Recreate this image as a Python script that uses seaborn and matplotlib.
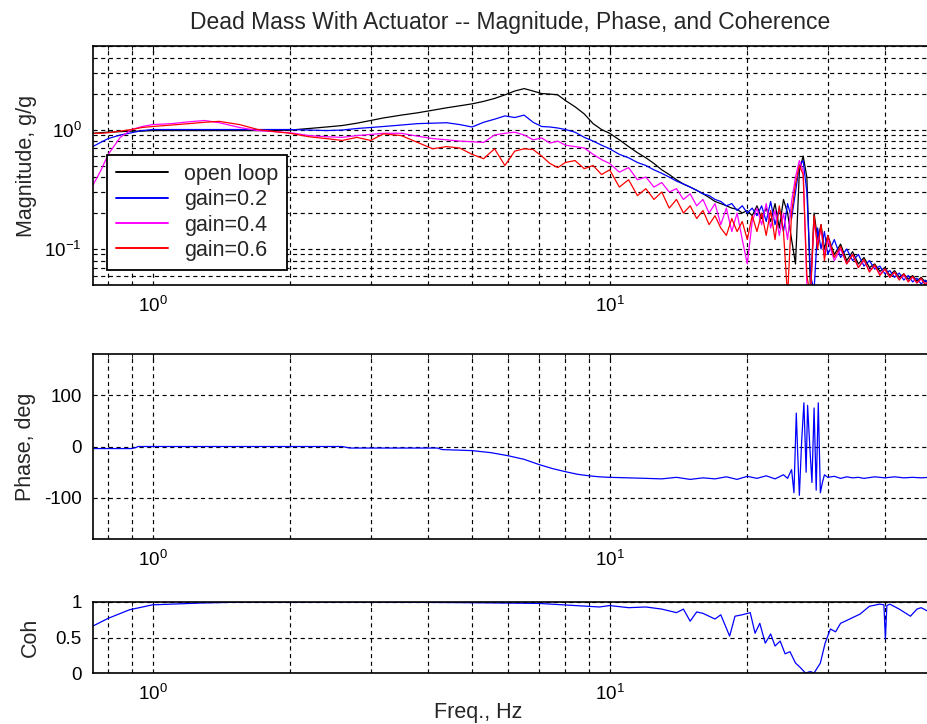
import numpy as np
import pandas as pd
import matplotlib
matplotlib.use("Agg")
import matplotlib.pyplot as plt
import seaborn as sns
from matplotlib.ticker import LogLocator, LogFormatterMathtext, NullFormatter, FixedLocator

# ---------------- data ----------------
freq_mag = [0.74, 0.77, 0.80, 0.85, 0.90, 0.95, 1.0, 1.1, 1.2, 1.3, 1.4, 1.55, 1.7, 1.85,
            2.0, 2.2, 2.4, 2.6, 2.8, 3.0, 3.2, 3.5, 3.8, 4.1, 4.4, 4.7, 5.0, 5.3, 5.6, 5.9,
            6.2, 6.5, 6.8, 7.1, 7.4, 7.7, 8.0, 8.4, 8.8, 9.2, 9.6, 10.0, 10.5, 11.0, 11.5,
            12.0, 12.5, 13.0, 13.5, 14.0, 14.5, 15.0, 15.5, 16.0, 16.5, 17.0, 17.5, 18.0,
            18.5, 19.0, 19.5, 20.0, 20.5, 21.0, 21.5, 22.0, 22.5, 23.0, 23.5, 24.0, 24.5,
            25.0, 25.5, 26.0, 26.5, 27.0, 27.5, 28.0, 28.5, 29.0, 29.5, 30.0, 31, 32, 33,
            34, 35, 36, 37, 38, 39, 40, 41, 42, 43, 44, 45, 46, 47, 48, 49, 50]

mag_open = [0.93, 0.94, 0.95, 0.96, 0.97, 0.97, 0.98, 0.98, 0.98, 0.98, 0.98, 0.98, 0.98, 0.98,
            0.99, 1.02, 1.05, 1.08, 1.13, 1.19, 1.25, 1.32, 1.38, 1.45, 1.52, 1.58, 1.64, 1.72,
            1.82, 1.95, 2.10, 2.20, 2.10, 2.00, 1.98, 1.95, 1.75, 1.55, 1.35, 1.12, 1.00, 0.93,
            0.82, 0.72, 0.64, 0.58, 0.52, 0.46, 0.42, 0.38, 0.35, 0.33, 0.31, 0.29, 0.27, 0.25,
            0.24, 0.23, 0.22, 0.215, 0.20, 0.21, 0.19, 0.23, 0.18, 0.22, 0.17, 0.24, 0.15, 0.26,
            0.20, 0.12, 0.075, 0.45, 0.60, 0.40, 0.045, 0.20, 0.12, 0.16, 0.10, 0.13, 0.09,
            0.11, 0.08, 0.095, 0.075, 0.085, 0.07, 0.075, 0.065, 0.07, 0.06, 0.066, 0.058,
            0.062, 0.056, 0.06, 0.054, 0.058, 0.053, 0.056]

mag_g02 = [0.72, 0.78, 0.84, 0.90, 0.94, 0.98, 1.0, 1.0, 1.0, 1.0, 1.0, 1.0, 1.0, 1.0,
           1.0, 0.99, 0.98, 0.99, 1.02, 1.04, 1.06, 1.09, 1.12, 1.13, 1.14, 1.10, 1.05, 1.15,
           1.22, 1.30, 1.26, 1.32, 1.15, 1.06, 1.05, 1.03, 1.00, 0.95, 0.86, 0.80, 0.74, 0.69,
           0.62, 0.58, 0.53, 0.50, 0.46, 0.43, 0.40, 0.37, 0.35, 0.33, 0.31, 0.29, 0.28, 0.26,
           0.25, 0.23, 0.24, 0.21, 0.23, 0.20, 0.22, 0.19, 0.23, 0.17, 0.25, 0.16, 0.22, 0.14,
           0.24, 0.18, 0.30, 0.50, 0.55, 0.30, 0.06, 0.045, 0.15, 0.10, 0.14, 0.09, 0.12,
           0.085, 0.10, 0.08, 0.09, 0.072, 0.08, 0.068, 0.072, 0.062, 0.066, 0.058, 0.063,
           0.055, 0.06, 0.053, 0.057, 0.051, 0.055, 0.05]

mag_g04 = [0.34, 0.45, 0.62, 0.86, 1.00, 1.06, 1.10, 1.12, 1.16, 1.19, 1.14, 1.04, 0.98, 0.96,
           0.94, 0.89, 0.87, 0.86, 0.89, 0.91, 0.93, 0.93, 0.88, 0.84, 0.82, 0.80, 0.79, 0.78,
           0.90, 0.93, 0.95, 0.90, 0.82, 0.85, 0.77, 0.80, 0.74, 0.72, 0.70, 0.62, 0.56, 0.52,
           0.44, 0.48, 0.38, 0.40, 0.33, 0.36, 0.30, 0.32, 0.26, 0.29, 0.23, 0.26, 0.20, 0.24,
           0.16, 0.22, 0.14, 0.20, 0.12, 0.075, 0.17, 0.22, 0.16, 0.24, 0.15, 0.21, 0.13, 0.20,
           0.12, 0.25, 0.40, 0.55, 0.45, 0.05, 0.045, 0.17, 0.11, 0.15, 0.09, 0.12, 0.08,
           0.10, 0.075, 0.09, 0.07, 0.08, 0.066, 0.072, 0.062, 0.068, 0.058, 0.064, 0.056,
           0.06, 0.054, 0.058, 0.052, 0.056, 0.051, 0.054]

mag_g06 = [0.93, 0.93, 0.94, 0.97, 1.00, 1.04, 1.06, 1.09, 1.12, 1.15, 1.17, 1.10, 1.00, 0.96,
           0.93, 0.87, 0.84, 0.81, 0.86, 0.81, 0.92, 0.89, 0.78, 0.69, 0.72, 0.70, 0.62, 0.57,
           0.69, 0.50, 0.66, 0.69, 0.68, 0.60, 0.52, 0.48, 0.53, 0.55, 0.47, 0.50, 0.42, 0.46,
           0.33, 0.38, 0.28, 0.32, 0.26, 0.30, 0.22, 0.26, 0.20, 0.23, 0.18, 0.21, 0.16, 0.19,
           0.15, 0.13, 0.18, 0.14, 0.17, 0.12, 0.19, 0.14, 0.20, 0.13, 0.21, 0.12, 0.23, 0.14,
           0.04, 0.20, 0.35, 0.50, 0.42, 0.06, 0.04, 0.19, 0.10, 0.16, 0.08, 0.13, 0.085,
           0.105, 0.075, 0.09, 0.07, 0.082, 0.064, 0.074, 0.06, 0.068, 0.058, 0.064, 0.055,
           0.062, 0.053, 0.059, 0.052, 0.057, 0.05, 0.055]

series_names = ["open loop", "gain=0.2", "gain=0.4", "gain=0.6"]
series_colors = ["#000000", "#0000ff", "#ff00ff", "#ff0000"]

freq_phase = [0.74, 0.80, 0.90, 0.92, 0.93, 1.0, 1.5, 2.0, 2.6, 2.7, 3.5, 4.2, 4.3, 5.0, 5.5,
              6.0, 6.5, 7.0, 7.5, 8.0, 8.5, 9.0, 9.5, 10, 11, 12, 13, 14, 15, 16, 17, 18, 19,
              20, 21, 22, 23, 24, 24.5, 25, 25.3, 25.6, 25.8, 26.0, 26.3, 26.6, 26.9, 27.1,
              27.4, 27.7, 28.0, 28.3, 28.6, 28.9, 29.2, 29.5, 30, 31, 32, 33, 34, 35, 36, 38,
              40, 42, 44, 46, 48, 50]
phase_deg = [-4, -4, -4, -2, 0, 0, 0, 0, 0, -3, -3, -3, -6, -8, -12,
             -18, -25, -35, -43, -49, -54, -57, -59, -60, -61, -62, -63, -60, -64, -61, -63, -59, -64,
             -58, -62, -57, -63, -55, -62, -45, -90, 65, -20, -95, 10, 85, -50, 80,
             0, -70, 75, -85, 85, -90, -70, -55, -60, -58, -62, -59, -61, -60, -62, -59,
             -61, -59, -61, -60, -61, -60]

freq_coh = [0.74, 0.80, 0.89, 1.0, 1.27, 1.6, 3.0, 5.0, 7.0, 9.5, 10, 11, 12, 13, 14, 14.5,
            15, 15.5, 16, 17, 17.5, 18.3, 18.8, 19.5, 20.3, 20.8, 21.3, 21.9, 22.5, 23, 23.6,
            24.2, 24.8, 25.5, 26.1, 26.8, 27.5, 28.0, 28.9, 29.6, 30.4, 31.2, 32, 33, 34,
            35.3, 37, 39, 39.8, 40.1, 40.4, 41, 43, 45.5, 47, 48, 50]
coherence = [0.66, 0.77, 0.89, 0.96, 0.985, 1.0, 1.0, 0.99, 0.98, 0.93, 0.95, 0.92, 0.93, 0.90,
             0.85, 0.90, 0.73, 0.86, 0.84, 0.76, 0.82, 0.52, 0.80, 0.82, 0.85, 0.56, 0.70, 0.42,
             0.55, 0.38, 0.45, 0.27, 0.30, 0.14, 0.08, 0.0, 0.02, 0.0, 0.14, 0.42, 0.62, 0.58,
             0.70, 0.74, 0.78, 0.83, 0.94, 0.97, 0.96, 0.48, 0.95, 0.97, 0.90, 0.80, 0.90, 0.92,
             0.86]

# ---------------- style ----------------
sns.set_style("white")
plt.rcParams["font.family"] = ["Liberation Sans", "DejaVu Sans"]
plt.rcParams["mathtext.default"] = "regular"
plt.rcParams["axes.linewidth"] = 1.2
plt.rcParams["axes.unicode_minus"] = False

FS_TICK = 13.5
FS_TEXT = 15.5
fig = plt.figure(figsize=(9.28, 7.24), dpi=100)
W, H = 928.0, 724.0
L, R = 93.0, 928.0

def add_ax(top, bottom):
    return fig.add_axes([L / W, 1 - bottom / H, (R - L) / W, (bottom - top) / H])

ax1 = add_ax(46, 285)
ax2 = add_ax(354, 539)
ax3 = add_ax(602, 673)

XMIN, XMAX = 0.741, 49.7
grid_kw = dict(color="black", linestyle=(0, (3.5, 3.0)), linewidth=0.85)

def style_axis(ax):
    ax.set_xscale("log")
    ax.set_xlim(XMIN, XMAX)
    ax.xaxis.set_major_locator(LogLocator(base=10, numticks=10))
    ax.xaxis.set_minor_locator(LogLocator(base=10, subs=np.arange(2, 10), numticks=20))
    ax.xaxis.set_major_formatter(LogFormatterMathtext())
    ax.xaxis.set_minor_formatter(NullFormatter())
    ax.grid(True, which="both", **grid_kw)
    ax.tick_params(which="both", direction="in", top=True, right=False,
                   labelsize=FS_TICK, colors="black", pad=8)
    ax.tick_params(which="major", length=5)
    ax.tick_params(which="minor", length=3)
    ax.spines["right"].set_visible(False)
    for s in ["left", "top", "bottom"]:
        ax.spines[s].set_color("black")
    ax.set_axisbelow(True)

# ---------- magnitude ----------
mag_df = pd.concat([
    pd.DataFrame({"freq": freq_mag, "mag": vals, "series": name})
    for name, vals in zip(series_names, [mag_open, mag_g02, mag_g04, mag_g06])
])
sns.lineplot(data=mag_df, x="freq", y="mag", hue="series", hue_order=series_names,
             palette=series_colors, estimator=None, sort=False, linewidth=0.9, ax=ax1)
ax1.set_yscale("log")
ax1.set_ylim(0.05, 5)
ax1.yaxis.set_major_locator(LogLocator(base=10, numticks=10))
ax1.yaxis.set_minor_locator(LogLocator(base=10, subs=np.arange(2, 10), numticks=20))
ax1.yaxis.set_major_formatter(LogFormatterMathtext())
ax1.yaxis.set_minor_formatter(NullFormatter())
style_axis(ax1)
ax1.set_xlabel("")
ax1.set_ylabel("Magnitude, g/g", fontsize=FS_TEXT, labelpad=5)
ax1.set_title("Dead Mass With Actuator -- Magnitude, Phase, and Coherence",
              fontsize=16.5, pad=12)
handles, labels = ax1.get_legend_handles_labels()
leg = ax1.legend(handles, labels, loc="lower left", bbox_to_anchor=(0.0168, 0.0628),
                 borderaxespad=0, fontsize=FS_TEXT, frameon=True, fancybox=False,
                 framealpha=1, edgecolor="black", handlelength=2.4, labelspacing=0.2,
                 borderpad=0.42, handletextpad=0.75)
leg.get_frame().set_linewidth(1.3)
for lh in leg.get_lines():
    lh.set_linewidth(1.4)

# ---------- phase ----------
ph_df = pd.DataFrame({"freq": freq_phase, "phase": phase_deg})
sns.lineplot(data=ph_df, x="freq", y="phase", color="#0000ff", estimator=None,
             sort=False, linewidth=0.9, ax=ax2)
ax2.set_ylim(-180, 180)
ax2.yaxis.set_major_locator(FixedLocator([-100, 0, 100]))
style_axis(ax2)
ax2.set_xlabel("")
ax2.set_ylabel("Phase, deg", fontsize=FS_TEXT, labelpad=6)

# ---------- coherence ----------
coh_df = pd.DataFrame({"freq": freq_coh, "coh": coherence})
sns.lineplot(data=coh_df, x="freq", y="coh", color="#0000ff", estimator=None,
             sort=False, linewidth=0.9, ax=ax3)
ax3.set_ylim(0, 1)
ax3.yaxis.set_major_locator(FixedLocator([0, 0.5, 1]))
ax3.yaxis.set_major_formatter(matplotlib.ticker.FuncFormatter(lambda v, p: f"{v:g}"))
style_axis(ax3)
ax3.set_ylabel("Coh", fontsize=FS_TEXT, labelpad=10.5)
ax3.set_xlabel("Freq., Hz", fontsize=FS_TEXT)
ax3.xaxis.set_label_coords((478 - L) / (R - L), -0.55)
ax3.xaxis.label.set_va("center")

fig.savefig("out.png", dpi=100)
